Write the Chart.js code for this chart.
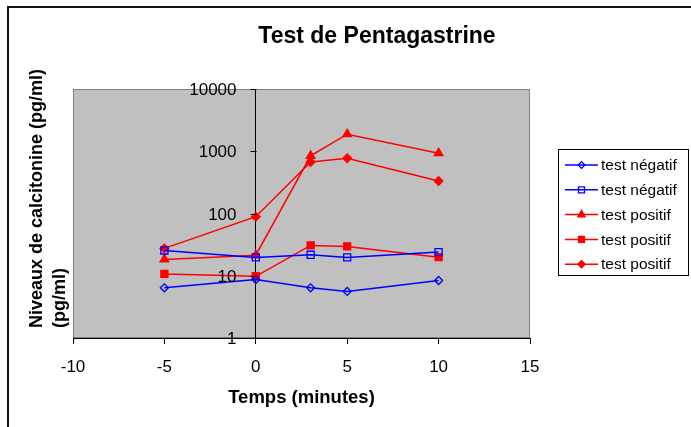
<!DOCTYPE html>
<html>
<head>
<meta charset="utf-8">
<script src="https://cdn.jsdelivr.net/npm/chart.js@4.4.1/dist/chart.umd.min.js"></script>
<style>
  html, body { margin: 0; padding: 0; background: #fff; }
  #wrap { width: 691px; height: 427px; }
</style>
</head>
<body>
<div id="wrap"><canvas id="pentaChart"></canvas></div>
<script>
// data
const minutes = [-5, 0, 3, 5, 10];
const seriesNames = ["test négatif", "test négatif", "test positif", "test positif", "test positif"];
const negatif1 = [6.4, 8.7, 6.4, 5.6, 8.4];
const negatif2 = [25.5, 19.7, 21.7, 19.7, 24];
const positif1 = [18.3, 21.4, 842, 1880, 930];
const positif2 = [10.7, 9.8, 30.7, 29.6, 19.9];
const positif3 = [27.5, 88.8, 674, 772, 333];
const xTicks = [-10, -5, 0, 5, 10, 15];
const yTicks = [1, 10, 100, 1000, 10000];
const chartTitle = "Test de Pentagastrine";
const xTitle = "Temps (minutes)";
const yTitle = ["Niveaux de calcitonine (pg/ml)", "(pg/ml)"];

const FONT = "'Liberation Sans', Arial, sans-serif";

function pts(vals) {
    return minutes.map((m, i) => ({ x: m, y: vals[i] }));
}

function serie(i, vals, color, style, filled, radius) {
    return {
        label: seriesNames[i],
        data: pts(vals),
        borderColor: color,
        backgroundColor: color,
        borderWidth: 1.5,
        pointStyle: style,
        pointRadius: radius,
        pointHoverRadius: radius,
        pointBorderWidth: 1.3,
        pointBorderColor: color,
        pointBackgroundColor: filled ? color : "rgba(0,0,0,0)",
        tension: 0
    };
}

const datasets = [
    serie(0, negatif1, "#0000FF", "rectRot", false, 4),
    serie(1, negatif2, "#0000FF", "rect", false, 5),
    serie(2, positif1, "#FF0000", "triangle", true, 5),
    serie(3, positif2, "#FF0000", "rect", true, 5),
    serie(4, positif3, "#FF0000", "rectRot", true, 4.3)
];

// grey plot area, outer frame, titles, y labels and boxed legend
const decor = {
    id: "decor",
    beforeDraw(chart) {
        const { ctx, chartArea: a } = chart;
        ctx.save();
        ctx.fillStyle = "#fff";
        ctx.fillRect(0, 0, chart.width, chart.height);
        ctx.fillStyle = "#C0C0C0";
        ctx.fillRect(a.left, a.top, a.right - a.left, a.bottom - a.top);
        ctx.strokeStyle = "#808080";
        ctx.lineWidth = 1;
        ctx.strokeRect(a.left + 0.5, a.top + 0.5, a.right - a.left - 1, a.bottom - a.top - 1);
        ctx.restore();
    },
    afterDraw(chart) {
        const { ctx, chartArea: a } = chart;
        const xs = chart.scales.x, ys = chart.scales.y;
        ctx.save();
        // outer frame
        ctx.strokeStyle = "#111";
        ctx.lineWidth = 2;
        ctx.beginPath();
        ctx.moveTo(8, chart.height + 5);
        ctx.lineTo(8, 7);
        ctx.lineTo(chart.width + 5, 7);
        ctx.stroke();

        // y axis tick marks and labels, left of the axis at x = 0
        const ax = Math.round(xs.getPixelForValue(0)) + 0.5;
        ctx.strokeStyle = "#000";
        ctx.lineWidth = 1;
        ctx.fillStyle = "#000";
        ctx.font = "17px " + FONT;
        ctx.textAlign = "right";
        ctx.textBaseline = "middle";
        yTicks.forEach(v => {
            const py = Math.round(ys.getPixelForValue(v)) + 0.5;
            ctx.beginPath();
            ctx.moveTo(ax - 6, py);
            ctx.lineTo(ax, py);
            ctx.stroke();
            ctx.fillText(String(v), ax - 20, py + 1);
        });

        // main title
        ctx.font = "bold 23px " + FONT;
        ctx.textAlign = "center";
        ctx.textBaseline = "alphabetic";
        ctx.fillText(chartTitle, 377, 42.5);

        // y title, rotated, aligned at bottom
        ctx.save();
        ctx.translate(37, 328);
        ctx.rotate(-Math.PI / 2);
        ctx.font = "bold 18px " + FONT;
        ctx.textAlign = "left";
        ctx.textBaseline = "middle";
        yTitle.forEach((t, i) => ctx.fillText(t, 0, i * 23));
        ctx.restore();

        // legend
        const lx = a.right + 28, ly = 149, lw = 130, lh = 126;
        ctx.fillStyle = "#fff";
        ctx.fillRect(lx, ly, lw, lh);
        ctx.strokeStyle = "#000";
        ctx.lineWidth = 1;
        ctx.strokeRect(lx + 0.5, ly + 0.5, lw, lh);
        chart.data.datasets.forEach((ds, i) => {
            const y = ly + 16 + i * 24.8;
            ctx.strokeStyle = ds.borderColor;
            ctx.lineWidth = 1.5;
            ctx.beginPath();
            ctx.moveTo(lx + 7, y);
            ctx.lineTo(lx + 40, y);
            ctx.stroke();
            ctx.fillStyle = ds.pointBackgroundColor;
            ctx.strokeStyle = ds.pointBorderColor;
            ctx.lineWidth = ds.pointBorderWidth;
            Chart.helpers.drawPoint(ctx, {
                pointStyle: ds.pointStyle,
                radius: ds.pointRadius * 0.85,
                rotation: 0,
                borderWidth: ds.pointBorderWidth
            }, lx + 23.5, y);
            ctx.fillStyle = "#000";
            ctx.font = "15.5px " + FONT;
            ctx.textAlign = "left";
            ctx.textBaseline = "middle";
            ctx.fillText(ds.label, lx + 43, y + 1);
        });
        ctx.restore();
    }
};

new Chart(document.getElementById("pentaChart"), {
    type: "line",
    data: { datasets: datasets },
    options: {
        responsive: true,
        maintainAspectRatio: false,
        animation: false,
        layout: { padding: { left: 73, right: 161, top: 89, bottom: 0 } },
        plugins: {
            legend: { display: false },
            title: { display: false },
            tooltip: { enabled: false }
        },
        scales: {
            x: {
                type: "linear",
                min: -10,
                max: 15,
                afterBuildTicks: s => { s.ticks = xTicks.map(v => ({ value: v })); },
                afterFit: s => { s.height = 89; },
                grid: { drawOnChartArea: false, tickLength: 6, color: "#000" },
                border: { color: "#000", width: 1 },
                ticks: { color: "#000", font: { family: FONT, size: 17 }, padding: 13, maxRotation: 0 },
                title: {
                    display: true,
                    text: xTitle,
                    color: "#000",
                    font: { family: FONT, size: 18.5, weight: "bold" },
                    padding: { top: 0, bottom: 18 }
                }
            },
            y: {
                type: "logarithmic",
                min: 1,
                max: 10000,
                position: { x: 0 },
                afterBuildTicks: s => { s.ticks = yTicks.map(v => ({ value: v })); },
                grid: { drawOnChartArea: false, drawTicks: false },
                border: { color: "#000", width: 1 },
                ticks: { display: false }
            }
        }
    },
    plugins: [decor]
});
</script>
</body>
</html>
